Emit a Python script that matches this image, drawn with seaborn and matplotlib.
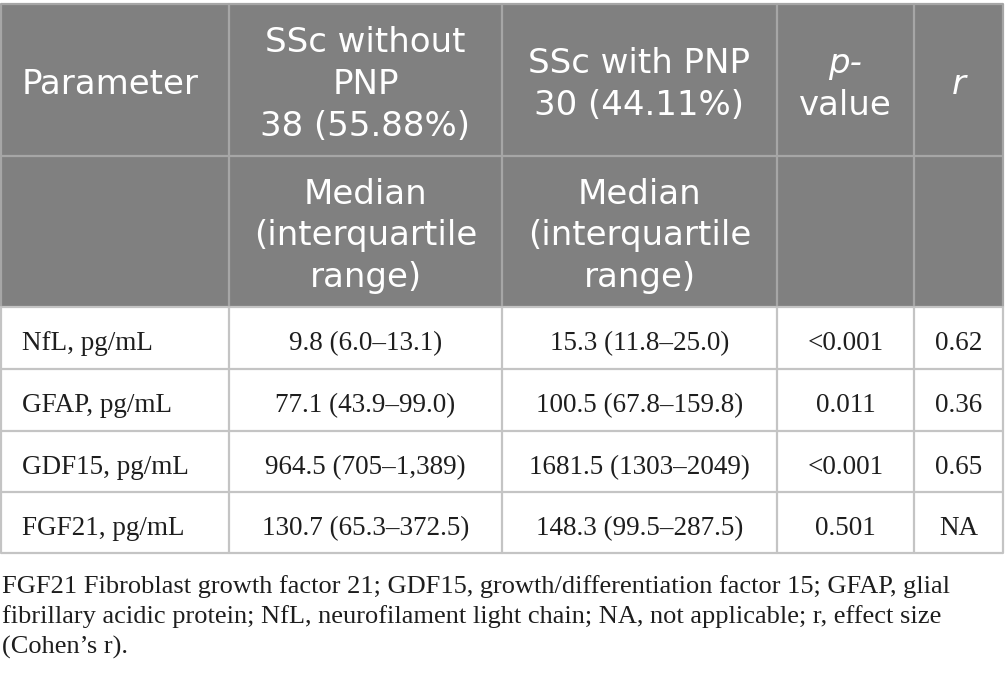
import matplotlib
matplotlib.use("Agg")
import matplotlib.pyplot as plt
import seaborn as sns
from matplotlib.patches import Rectangle

# ---- data ----
parameters = ["NfL, pg/mL", "GFAP, pg/mL", "GDF15, pg/mL", "FGF21, pg/mL"]
without_pnp = ["9.8 (6.0\u201313.1)", "77.1 (43.9\u201399.0)",
               "964.5 (705\u20131,389)", "130.7 (65.3\u2013372.5)"]
with_pnp = ["15.3 (11.8\u201325.0)", "100.5 (67.8\u2013159.8)",
            "1681.5 (1303\u20132049)", "148.3 (99.5\u2013287.5)"]
p_values = ["<0.001", "0.011", "<0.001", "0.501"]
r_values = ["0.62", "0.36", "0.65", "NA"]

header1 = [["Parameter"],
           ["SSc without", "PNP", "38 (55.88%)"],
           ["SSc with PNP", "30 (44.11%)"],
           ["p-", "value"],
           ["r"]]
italic_header = {"p-", "r"}
header2 = [[], ["Median", "(interquartile", "range)"],
           ["Median", "(interquartile", "range)"], [], []]
footnote = ["FGF21 Fibroblast growth factor 21; GDF15, growth/differentiation factor 15; GFAP, glial",
            "fibrillary acidic protein; NfL, neurofilament light chain; NA, not applicable; r, effect size",
            "(Cohen\u2019s r)."]

# ---- layout (pixel coords) ----
col_edges = [1, 229, 502, 777, 914, 1003]
row_edges = [4, 156, 307, 369, 431, 492, 553]
HEAD_BG = "#808080"
HEAD_LINE = "#a6a6a6"
BODY_LINE = "#c4c4c4"
TEXT = "#1e1e1e"
SANS = "DejaVu Sans"
SERIF = "Liberation Serif"

sns.set_theme(style="white")
fig = plt.figure(figsize=(10.05, 6.81), dpi=100)
ax = fig.add_axes([0, 0, 1, 1])
ax.set_xlim(0, 1005)
ax.set_ylim(681, 0)
ax.axis("off")

# header background
ax.add_patch(Rectangle((col_edges[0], row_edges[0]), col_edges[-1] - col_edges[0],
                       row_edges[2] - row_edges[0], facecolor=HEAD_BG, edgecolor="none", zorder=1))

# grid lines
x0, x1 = col_edges[0], col_edges[-1]
for i, y in enumerate(row_edges):
    c = HEAD_LINE if i < 2 else BODY_LINE
    ax.plot([x0, x1], [y, y], color=c, lw=1.6, zorder=2, solid_capstyle="butt")
for x in col_edges:
    ax.plot([x, x], [row_edges[0], row_edges[2]], color=HEAD_LINE, lw=1.6, zorder=2)
    ax.plot([x, x], [row_edges[2], row_edges[-1]], color=BODY_LINE, lw=1.6, zorder=2)

centers = [(col_edges[i] + col_edges[i + 1]) / 2 for i in range(5)]
hfs = 24.5
line_gap = 42

def draw_lines(lines, col, mid):
    n = len(lines)
    first = mid - (n - 1) * line_gap / 2
    for k, t in enumerate(lines):
        style = "italic" if t in italic_header else "normal"
        if col == 0:
            ax.text(col_edges[0] + 21, first + k * line_gap + 11, t, color="white",
                    fontsize=hfs, family=SANS, ha="left", va="baseline", zorder=3)
        else:
            ax.text(centers[col], first + k * line_gap + 11, t, color="white",
                    fontsize=hfs, family=SANS, ha="center", va="baseline",
                    fontstyle=style, zorder=3)

for c, lines in enumerate(header1):
    draw_lines(lines, c, (row_edges[0] + row_edges[1]) / 2 + 3)
for c, lines in enumerate(header2):
    if lines:
        draw_lines(lines, c, (row_edges[1] + row_edges[2]) / 2 + 3)

# body
bfs = 19.5
cols = [parameters, without_pnp, with_pnp, p_values, r_values]
for r in range(len(parameters)):
    yb = row_edges[2 + r] + 43
    for c, values in enumerate(cols):
        if c == 0:
            ax.text(col_edges[0] + 21, yb, values[r], fontsize=bfs, family=SERIF,
                    color=TEXT, ha="left", va="baseline", zorder=3)
        else:
            ax.text(centers[c], yb, values[r], fontsize=bfs, family=SERIF,
                    color=TEXT, ha="center", va="baseline", zorder=3)

# footnote
for k, line in enumerate(footnote):
    ax.text(2, 593 + k * 30.5, line, fontsize=19, family=SERIF, color=TEXT,
            ha="left", va="baseline")

fig.savefig("out.png", dpi=100, facecolor="white")
